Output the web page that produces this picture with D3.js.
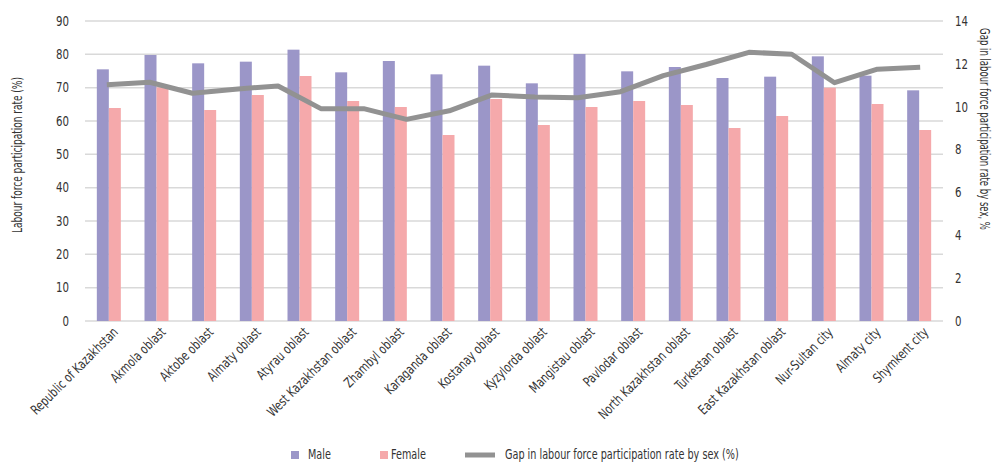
<!DOCTYPE html>
<html>
<head>
<meta charset="utf-8">
<script src="https://cdn.jsdelivr.net/npm/d3@7"></script>
<style>
  html, body { margin: 0; padding: 0; background: #fff; }
  svg text { font-family: "DejaVu Sans", sans-serif; font-stretch: condensed; fill: #333; }
</style>
</head>
<body>
<svg id="chart" width="995" height="462"></svg>
<script>
// Regions of Kazakhstan
const categories = [
  "Republic of Kazakhstan", "Akmola oblast", "Aktobe oblast", "Almaty oblast",
  "Atyrau oblast", "West Kazakhstan oblast", "Zhambyl oblast", "Karaganda oblast",
  "Kostanay oblast", "Kyzylorda oblast", "Mangistau oblast", "Pavlodar oblast",
  "North Kazakhstan oblast", "Turkestan oblast", "East Kazakhstan oblast",
  "Nur-Sultan city", "Almaty city", "Shymkent city"
];

// Labour force participation rate, %
const maleRate = [75.5, 79.8, 77.3, 77.8, 81.4, 74.6, 78.0, 74.0, 76.6, 71.3, 80.1, 74.9, 76.2, 72.9, 73.3, 79.4, 73.6, 69.2];
const femaleRate = [63.9, 70.1, 63.3, 67.8, 73.5, 66.0, 64.2, 55.8, 66.6, 58.8, 64.2, 66.0, 64.8, 57.9, 61.5, 70.0, 65.1, 57.3];

// Gap in labour force participation rate by sex, % (secondary axis series)
const gapRate = [11.03, 11.14, 10.63, 10.82, 10.97, 9.91, 9.91, 9.41, 9.81, 10.55,
                 10.45, 10.42, 10.70, 11.45, 11.97, 12.54, 12.45, 11.12, 11.75, 11.84];

const leftTicks = [0, 10, 20, 30, 40, 50, 60, 70, 80, 90];
const rightTicks = [0, 2, 4, 6, 8, 10, 12, 14];

const colors = { male: "#9b96c8", female: "#f5a9ab", gap: "#929292", grid: "#d9d9d9" };
const fontSize = 13.5;
const titleSize = 14;

const svg = d3.select("#chart");
const plot = { left: 85, right: 943, top: 21, bottom: 321 };

const x = d3.scaleBand().domain(categories).range([plot.left, plot.right]).paddingInner(0).paddingOuter(0);
const yL = d3.scaleLinear().domain([0, 90]).range([plot.bottom, plot.top]);
const yR = d3.scaleLinear().domain([0, 14]).range([plot.bottom, plot.top]);
const barW = 12;

// Horizontal squeeze that makes a string at the chart font span a given width
function squeezeFor(str, width, size = fontSize) {
  const probe = svg.append("text").attr("font-size", size).text(str);
  const w = probe.node().getComputedTextLength();
  probe.remove();
  return Math.min(1, width / w);
}
const labelSq = squeezeFor("Republic of Kazakhstan", 117);
const legendSq = squeezeFor("Gap in labour force participation rate by sex (%)", 234);
const leftTitleSq = squeezeFor("Labour force participation rate (%)", 156, titleSize);
const rightTitleSq = squeezeFor("Gap in labour force participation rate by sex, %", 202, titleSize);
const tickSq = squeezeFor("90", 13);

// Gridlines
svg.append("g")
  .selectAll("line")
  .data(leftTicks)
  .join("line")
  .attr("x1", plot.left).attr("x2", plot.right)
  .attr("y1", d => yL(d)).attr("y2", d => yL(d))
  .attr("stroke", colors.grid).attr("stroke-width", 1.5);

// Left axis
const axL = svg.append("g")
  .attr("transform", `translate(${plot.left - 16},0)`)
  .call(d3.axisLeft(yL).tickValues(leftTicks).tickSize(0).tickPadding(0));
axL.select(".domain").remove();
axL.selectAll("text")
  .attr("font-size", fontSize).attr("font-family", null).style("fill", "#333")
  .attr("transform", `scale(${tickSq},1)`)
  .attr("x", 0);

// Right axis
const axR = svg.append("g")
  .attr("transform", `translate(${plot.right + 12},0)`)
  .call(d3.axisRight(yR).tickValues(rightTicks).tickSize(0).tickPadding(0));
axR.select(".domain").remove();
axR.selectAll("text")
  .attr("font-size", fontSize).attr("font-family", null).style("fill", "#333")
  .attr("transform", `scale(${tickSq},1)`)
  .attr("x", 0);

// Axis titles
svg.append("text")
  .attr("transform", `translate(22,155) rotate(-90) scale(${leftTitleSq},1)`)
  .attr("text-anchor", "middle")
  .attr("font-size", titleSize)
  .text("Labour force participation rate (%)");

svg.append("text")
  .attr("transform", `translate(980,129) rotate(90) scale(${rightTitleSq},1)`)
  .attr("text-anchor", "middle")
  .attr("font-size", titleSize)
  .text("Gap in labour force participation rate by sex, %");

// Bars
const groups = svg.append("g").selectAll("g")
  .data(categories)
  .join("g")
  .attr("transform", d => `translate(${x(d) + x.bandwidth() / 2},0)`);

groups.append("rect")
  .attr("x", -barW).attr("width", barW)
  .attr("y", (d, i) => yL(maleRate[i]))
  .attr("height", (d, i) => yL(0) - yL(maleRate[i]))
  .attr("fill", colors.male);

groups.append("rect")
  .attr("x", 0).attr("width", barW)
  .attr("y", (d, i) => yL(femaleRate[i]))
  .attr("height", (d, i) => yL(0) - yL(femaleRate[i]))
  .attr("fill", colors.female);

// Gap line on its own point scale
const xLine = d3.scalePoint()
  .domain(d3.range(gapRate.length))
  .range([x(categories[0]) + x.bandwidth() / 2 - 2, x(categories[categories.length - 1]) + x.bandwidth() / 2 + 1]);

svg.append("path")
  .datum(gapRate)
  .attr("fill", "none")
  .attr("stroke", colors.gap)
  .attr("stroke-width", 5)
  .attr("stroke-linejoin", "round")
  .attr("d", d3.line().x((d, i) => xLine(i)).y(d => yR(d)));

// Category labels
svg.append("g").selectAll("text")
  .data(categories)
  .join("text")
  .attr("transform", d => `translate(${x(d) + x.bandwidth() / 2 + 10},${plot.bottom + 12}) rotate(-45) scale(${labelSq},1)`)
  .attr("text-anchor", "end")
  .attr("font-size", fontSize)
  .text(d => d);

// Legend
const legend = svg.append("g").attr("transform", "translate(0,455)");
legend.append("rect").attr("x", 291).attr("y", -4).attr("width", 8).attr("height", 8).attr("fill", colors.male);
legend.append("text").attr("transform", `translate(308,3.5) scale(${legendSq},1)`).attr("font-size", fontSize).text("Male");
legend.append("rect").attr("x", 380).attr("y", -4).attr("width", 8).attr("height", 8).attr("fill", colors.female);
legend.append("text").attr("transform", `translate(391,3.5) scale(${legendSq},1)`).attr("font-size", fontSize).text("Female");
legend.append("line").attr("x1", 465).attr("x2", 495).attr("y1", 0).attr("y2", 0)
  .attr("stroke", colors.gap).attr("stroke-width", 5);
legend.append("text").attr("transform", `translate(505,3.5) scale(${legendSq},1)`).attr("font-size", fontSize)
  .text("Gap in labour force participation rate by sex (%)");
</script>
</body>
</html>
